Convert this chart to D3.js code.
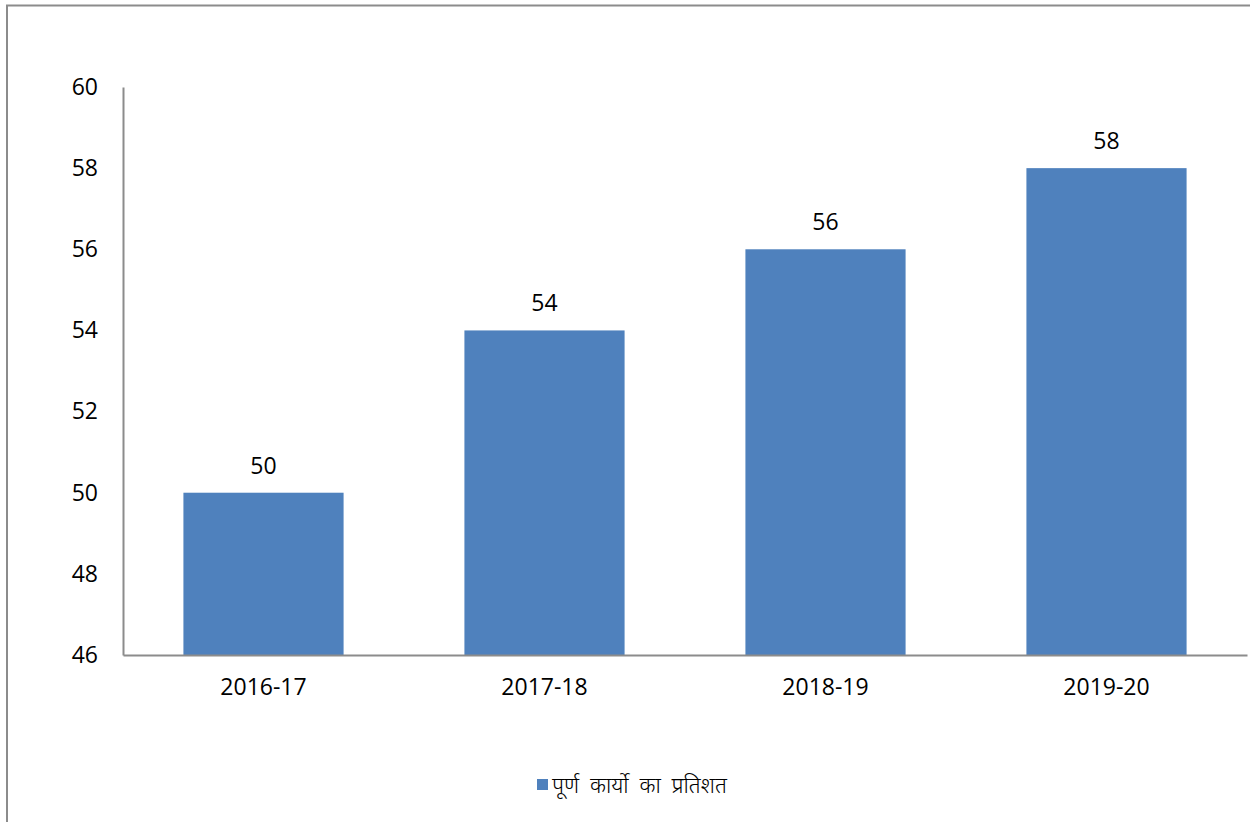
<!DOCTYPE html>
<html>
<head>
<meta charset="utf-8">
<script src="https://cdn.jsdelivr.net/npm/d3@7"></script>
<style>
  body { margin: 0; background: #fff; }
  svg text { font-family: "Open Sans", "Noto Sans", sans-serif; fill: #000; }
</style>
</head>
<body>
<div id="chart"></div>
<script>
const years = ["2016-17", "2017-18", "2018-19", "2019-20"];
const completedPct = [50, 54, 56, 58];
const yTicks = [46, 48, 50, 52, 54, 56, 58, 60];
const seriesName = "पूर्ण कार्यो का प्रतिशत";

const width = 1250, height = 822;
const svg = d3.select("#chart").append("svg")
    .attr("width", width).attr("height", height);

// outer frame (top + left only visible)
svg.append("path")
    .attr("d", "M7,822 L7,5.5 L1250,5.5")
    .attr("fill", "none")
    .attr("stroke", "#8c8c8c")
    .attr("stroke-width", 2);

const plotLeft = 123, plotRight = 1247, plotTop = 87, plotBottom = 655;

const x = d3.scaleBand().domain(years).range([plotLeft, plotRight]).paddingInner(0.43).paddingOuter(0.215);
const y = d3.scaleLinear().domain([46, 60]).range([plotBottom, plotTop]);

// bars
svg.append("g").selectAll("rect")
    .data(years)
    .enter().append("rect")
    .attr("x", d => x(d))
    .attr("y", (d, i) => y(completedPct[i]))
    .attr("width", x.bandwidth())
    .attr("height", (d, i) => y(46) - y(completedPct[i]))
    .attr("fill", "#4f81bd");

// value labels
svg.append("g").selectAll("text")
    .data(years)
    .enter().append("text")
    .attr("x", d => x(d) + x.bandwidth() / 2)
    .attr("y", (d, i) => y(completedPct[i]) - 19)
    .attr("text-anchor", "middle")
    .style("font-size", "23px")
    .text((d, i) => completedPct[i]);

// y axis
const yAxis = svg.append("g")
    .attr("transform", `translate(${plotLeft},0)`)
    .call(d3.axisLeft(y).tickValues(yTicks).tickSize(0).tickPadding(25));
yAxis.select(".domain").attr("stroke", "#8c8c8c").attr("stroke-width", 2);
yAxis.selectAll("text").style("font-size", "23px").attr("font-family", null);

// x axis
const xAxis = svg.append("g")
    .attr("transform", `translate(0,${plotBottom})`)
    .call(d3.axisBottom(x).tickSize(0).tickPadding(24));
xAxis.select(".domain").attr("stroke", "#8c8c8c").attr("stroke-width", 2);
xAxis.selectAll("text").style("font-size", "23px").attr("font-family", null);

// legend
const lg = svg.append("g").attr("transform", "translate(537,779)");
lg.append("rect").attr("width", 11).attr("height", 11).attr("fill", "#4f81bd");
lg.append("text").attr("x", 15).attr("y", 6).attr("dy", "0.35em")
    .style("font-size", "22px")
    .style("font-weight", 300)
    .style("word-spacing", "5px")
    .text(seriesName);
</script>
</body>
</html>
